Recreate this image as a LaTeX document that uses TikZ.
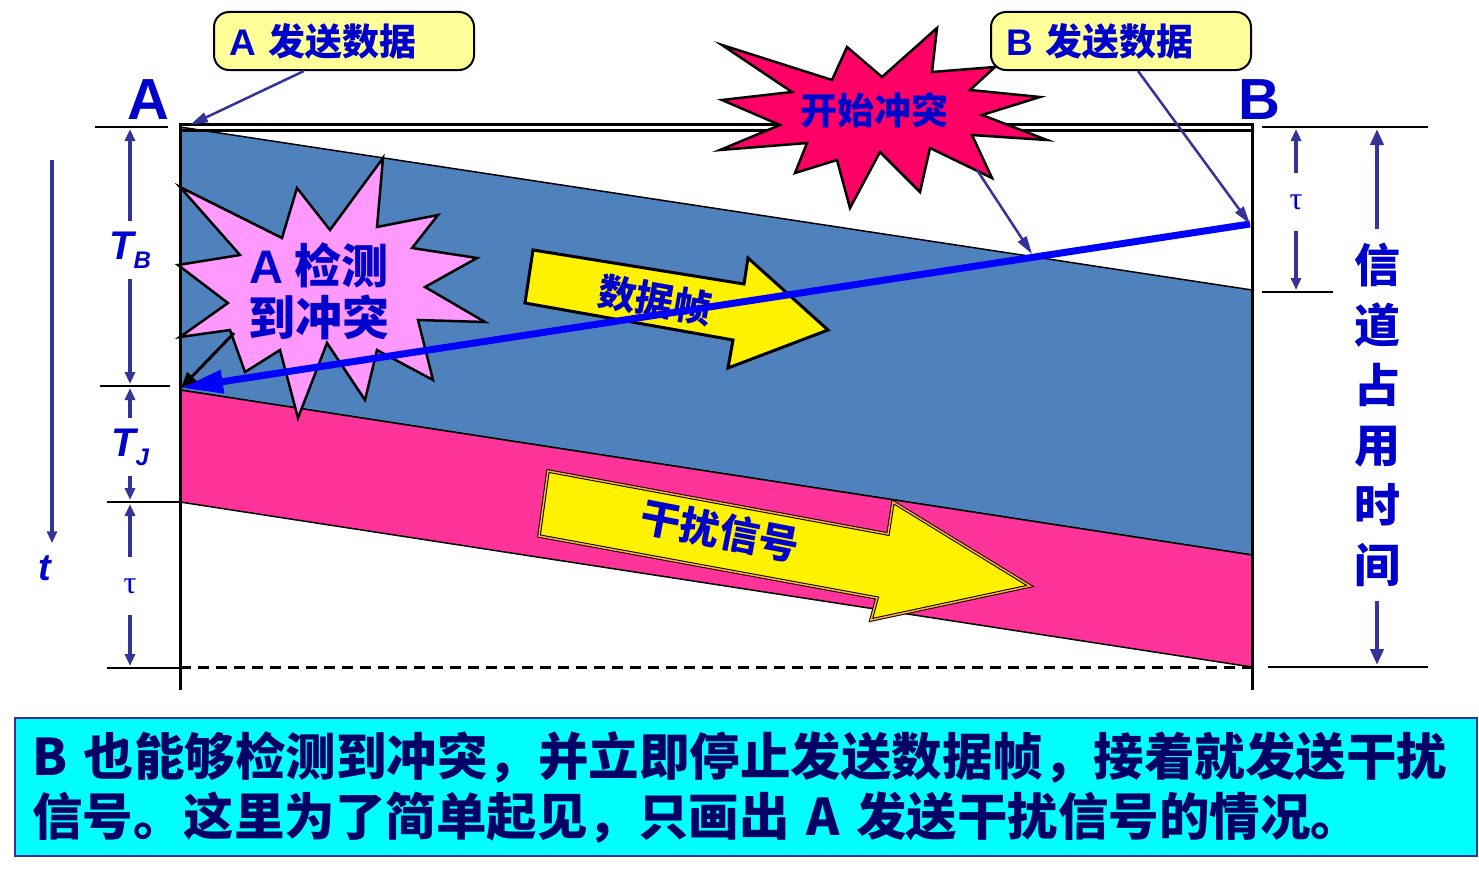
\documentclass[tikz,border=0pt]{standalone}
\usepackage{fontspec}
\setmainfont{Noto Sans CJK SC}
\newfontfamily\latin{Liberation Sans}
\newfontfamily\serif{Liberation Serif}
\usetikzlibrary{arrows.meta}
\definecolor{lblue}{HTML}{0000CC}
\definecolor{dimblue}{HTML}{333399}
\definecolor{band}{HTML}{4F81BD}
\definecolor{jam}{HTML}{FF3399}
\definecolor{boom}{HTML}{FF0066}
\definecolor{burst}{HTML}{FF99FF}
\definecolor{note}{HTML}{FFFF99}
\definecolor{navy}{HTML}{000066}
\definecolor{sigblue}{HTML}{0000FF}
\definecolor{aqua}{HTML}{00FFFF}

\begin{document}
\begin{tikzpicture}[x=1pt, y=-1pt,
  tick/.style={line width=2pt},
  dim/.style={-{Triangle[length=12pt, width=10pt]}, dimblue, line width=3.5pt},
  dimlab/.style={text=lblue, inner sep=0pt, minimum height=58pt},
  ptr/.style={-{Triangle[length=18pt, width=10pt]}, dimblue, line width=2.5pt},
  callout/.style={draw, line width=2pt, rounded corners=15pt, fill=note,
                  minimum height=58pt, text width=230pt, align=left, inner xsep=15pt,
                  inner ysep=0pt, text=lblue, font=\bfseries\fontsize{37}{40}\selectfont},
  station/.style={text=lblue, font=\latin\bfseries\fontsize{58}{60}\selectfont, inner sep=0pt},
  arrowbox/.style={fill=yellow, draw=black, line width=3pt, line join=miter}]
\useasboundingbox (0,0) rectangle (1479,875);

% bands
\filldraw[fill=band, line width=1.5pt] (180,127) -- (1252,290) -- (1252,555) -- (180,390) -- cycle;
\filldraw[fill=jam, line width=1.5pt] (180,390) -- (1252,555) -- (1252,667) -- (180,502) -- cycle;

% frame
\draw[line width=3pt] (180,690) -- (180,124.5) -- (1252,124.5) -- (1252,690);
\draw[line width=2.5pt] (181,130.5) -- (1251,130.5);
\draw[line width=3pt, dash pattern=on 11pt off 7pt] (180,667) -- (1252,667);

\draw[tick] (95,127) -- (168,127);
\draw[tick] (100,386) -- (170,386);
\draw[tick] (107,502) -- (180,502);
\draw[tick] (107,668) -- (180,668);
\draw[tick] (1262,127) -- (1428,127);
\draw[tick] (1262,292) -- (1333,292);
\draw[tick] (1268,667) -- (1428,667);

\node[station] (A) at (148,100) {A};
\node[station] (B) at (1259,100) {B};

% A detects the collision
\filldraw[fill=burst, line width=2.5pt, line join=miter]
  (180,187) -- (282,238) -- (297,188) -- (330,230) -- (383,158) -- (377,227)
  -- (438,215) -- (412,248) -- (477,258) -- (425,287) -- (485,322) -- (418,320)
  -- (433,380) -- (377,350) -- (365,400) -- (327,343) -- (298,418) -- (280,350)
  -- (245,372) -- (230,330) -- (180,337) -- (228,303) -- (178,265) -- (240,255) -- cycle;
\node[text=lblue, align=center, font=\bfseries\fontsize{47}{52}\selectfont] (detect) at (319,291)
  {{\latin A} 检测\\到冲突};

% frame arrow
\filldraw[arrowbox] (533,250) -- (744,284) -- (748,258) -- (828,330) -- (728,368)
  -- (733,340) -- (525,303) -- cycle;
\node[text=lblue, rotate=-10, font=\bfseries\fontsize{38}{40}\selectfont] (frame) at (655,300) {数据帧};

% jamming arrow
\filldraw[arrowbox, line width=1pt, double=jam!40!yellow, double distance=1.5pt]
  (548,471) -- (888,534) -- (893,502) -- (1030,586) -- (871,620) -- (877,598)
  -- (539,536) -- cycle;
\node[text=lblue, rotate=-11, font=\bfseries\fontsize{40}{42}\selectfont] (jamming) at (720,531) {干扰信号};

% collision starts
\filldraw[fill=boom, line width=2.5pt, line join=miter]
  (722,45) -- (832,80) -- (847,47) -- (882,77) -- (937,28) -- (932,72) -- (995,67)
  -- (970,90) -- (1040,97) -- (982,115) -- (1047,140) -- (972,135) -- (992,178)
  -- (930,148) -- (920,192) -- (880,152) -- (850,208) -- (837,160) -- (795,173)
  -- (807,143) -- (720,150) -- (780,125) -- (722,100) -- (792,92) -- cycle;
\node[text=lblue, font=\bfseries\fontsize{37}{40}\selectfont] (clash) at (874,110) {开始冲突};

\coordinate (Acorner) at (190,125);
\coordinate (Bstart) at (1250,224);
\coordinate (Ahit) at (181,388);
\coordinate (hit) at (1032,254);
\coordinate (tip) at (977,170);
\coordinate (det) at (234,333);
\coordinate (tstart) at (52,160);

\draw[line width=7pt, sigblue, -{Triangle[length=42pt, width=22pt]}] (Bstart) -- (Ahit);
\draw[line width=3pt, -{Triangle[length=16pt, width=13pt]}] (det) -- (Ahit);
\draw[ptr] (tip) -- (hit);

% callouts
\node[callout, anchor=north west] (sendA) at (213,11) {{\latin A} 发送数据};
\node[callout, anchor=north west] (sendB) at (990,11) {{\latin B} 发送数据};
\draw[ptr] ([xshift=-40pt]sendA.south) -- (Acorner);
\draw[ptr] ([xshift=17pt]sendB.south) -- (Bstart);

% time scales
\node[dimlab, font=\latin\bfseries\itshape\fontsize{40}{42}\selectfont] (TB) at (130,250)
  {T\raisebox{-9pt}{\fontsize{24}{24}\selectfont B}};
\node[dimlab, font=\latin\bfseries\itshape\fontsize{40}{42}\selectfont] (TJ) at (130,447)
  {T\raisebox{-9pt}{\fontsize{24}{24}\selectfont J}};
\node[dimlab, font=\serif\fontsize{32}{34}\selectfont] (tauA) at (130,586) {τ};
\node[dimlab, font=\serif\fontsize{32}{34}\selectfont] (tauB) at (1296,202) {τ};
\node[text=lblue, inner sep=0pt, font=\latin\bfseries\itshape\fontsize{38}{40}\selectfont] (t) at (45,568) {t};
\node[text=lblue, align=center, inner sep=14pt, font=\bfseries\fontsize{46}{60}\selectfont] (occupy)
  at (1377,415) {信\\道\\占\\用\\时\\间};

\draw[dim] (TB) -- (130,129);
\draw[dim] (TB) -- (130,384);
\draw[dim] (TJ) -- (130,388);
\draw[dim] (TJ) -- (130,500);
\draw[dim] (tauA) -- (130,504);
\draw[dim] (tauA) -- (130,666);
\draw[dim] (tauB) -- (1296,129);
\draw[dim] (tauB) -- (1296,290);
\draw[dim, line width=4.5pt, -{Triangle[length=16pt, width=13pt]}] (occupy) -- (1377,129);
\draw[dim, line width=4.5pt, -{Triangle[length=16pt, width=13pt]}] (occupy) -- (1377,665);
\draw[dim, shorten >=12pt] (tstart) -- (tstart |- t.north);

% explanation
\node[draw=dimblue, fill=aqua, line width=2.5pt, minimum width=1462pt, minimum height=138pt,
      text width=1428pt, align=left, text=navy, font=\bfseries\fontsize{50.5}{60}\selectfont]
  (note) at (746,787)
  {B 也能够检测到冲突，并立即停止发送数据帧，接着就发送干扰\\信号。这里为了简单起见，只画出 A 发送干扰信号的情况。};
\end{tikzpicture}
\end{document}
